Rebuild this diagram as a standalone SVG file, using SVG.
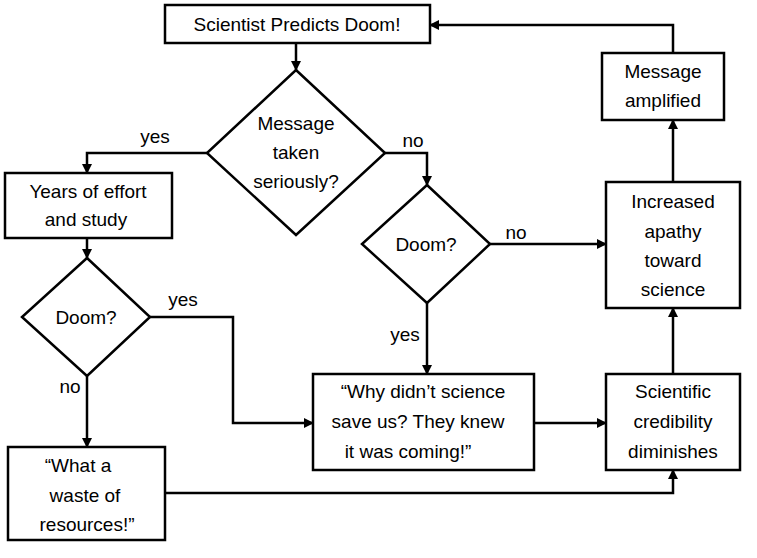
<svg xmlns="http://www.w3.org/2000/svg" width="757" height="558" viewBox="0 0 757 558">
<style>
.n{fill:#fff;stroke:#000;stroke-width:2.5}
text{font-family:"Liberation Sans",Arial,sans-serif;font-size:19px;fill:#000;text-anchor:middle}
.c{fill:none;stroke:#000;stroke-width:2.5;marker-end:url(#a)}
</style>
<defs><marker id="a" viewBox="0 0 10 10" refX="9" refY="5" markerWidth="4" markerHeight="4" orient="auto"><path d="M0,0L10,5L0,10z" fill="#000"/></marker></defs>
<rect width="757" height="558" fill="#fff"/>
<g id="connectors">
<path class="c" d="M296,43V70"/>
<path class="c" d="M207,153H87V173"/>
<path class="c" d="M385,153H427V185"/>
<path class="c" d="M87,238V258"/>
<path class="c" d="M150,317H233V423H313"/>
<path class="c" d="M87,376V447"/>
<path class="c" d="M490,244H606"/>
<path class="c" d="M427,303V374"/>
<path class="c" d="M534,423H606"/>
<path class="c" d="M165,493H673V470"/>
<path class="c" d="M673,374V308"/>
<path class="c" d="M673,182V120"/>
<path class="c" d="M673,53V25H430"/>
<text x="155" y="143">yes</text><text x="413" y="147">no</text>
<text x="183" y="306">yes</text><text x="70" y="393">no</text>
<text x="516" y="239">no</text><text x="405" y="341">yes</text>
</g>
<g id="start"><rect class="n" x="165" y="5" width="265" height="38"/><text x="297" y="31">Scientist Predicts Doom!</text></g>
<g id="d1"><path class="n" d="M296,70L385,153L296,235L207,153z"/><text x="296" y="130">Message</text><text x="296" y="159">taken</text><text x="296" y="188">seriously?</text></g>
<g id="years"><rect class="n" x="5" y="173" width="167" height="65"/><text x="88" y="198">Years of effort</text><text x="86" y="226">and study</text></g>
<g id="d2"><path class="n" d="M87,258L150,317L87,376L22,317z"/><text x="86" y="324">Doom?</text></g>
<g id="waste"><rect class="n" x="8" y="447" width="157" height="93"/><text x="78" y="472">“What a</text><text x="85" y="502">waste of</text><text x="87" y="531">resources!”</text></g>
<g id="d3"><path class="n" d="M427,185L490,244L427,303L362,244z"/><text x="426" y="251">Doom?</text></g>
<g id="why"><rect class="n" x="313" y="374" width="221" height="96"/><text x="423" y="398">“Why didn’t science</text><text x="418" y="428">save us? They knew</text><text x="408" y="458">it was coming!”</text></g>
<g id="cred"><rect class="n" x="606" y="374" width="134" height="96"/><text x="673" y="398">Scientific</text><text x="673" y="428">credibility</text><text x="673" y="458">diminishes</text></g>
<g id="apathy"><rect class="n" x="606" y="182" width="134" height="126"/><text x="673" y="208">Increased</text><text x="673" y="238">apathy</text><text x="673" y="267">toward</text><text x="673" y="296">science</text></g>
<g id="amp"><rect class="n" x="602" y="53" width="122" height="67"/><text x="663" y="78">Message</text><text x="663" y="107">amplified</text></g>
</svg>
